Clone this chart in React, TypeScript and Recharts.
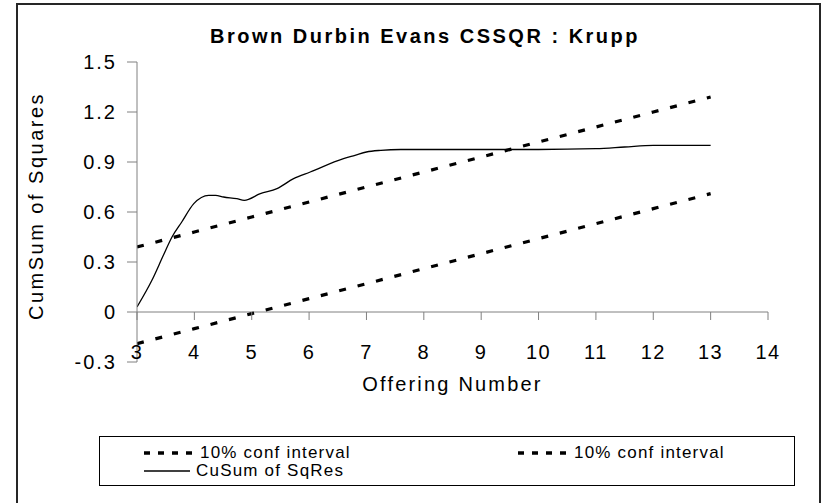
import React from 'react';
import { LineChart, Line, XAxis, YAxis, ReferenceLine } from 'recharts';

// ---- data ----
const confX = [3, 4, 5, 6, 7, 8, 9, 10, 11, 12, 13];
const upperVals = [0.39, 0.48, 0.57, 0.66, 0.75, 0.84, 0.93, 1.02, 1.11, 1.2, 1.29];
const lowerVals = [-0.19, -0.1, -0.01, 0.08, 0.17, 0.26, 0.35, 0.44, 0.53, 0.62, 0.71];

const cusumX = [3, 3.26, 3.46, 3.61, 3.78, 3.99, 4.25, 4.37, 4.51, 4.74, 4.87, 5.15, 5.44, 5.73, 6.02, 6.6, 6.8, 7.0, 7.25, 7.6, 8, 9, 10, 11, 11.5, 12, 13];
const cusumVals = [0.03, 0.19, 0.34, 0.45, 0.54, 0.65, 0.7, 0.7, 0.69, 0.68, 0.67, 0.71, 0.74, 0.8, 0.84, 0.92, 0.94, 0.96, 0.97, 0.975, 0.975, 0.975, 0.975, 0.98, 0.99, 1.0, 1.0];

const xTicks = [3, 4, 5, 6, 7, 8, 9, 10, 11, 12, 13, 14];
const yTicks = [-0.3, 0, 0.3, 0.6, 0.9, 1.2, 1.5];

const titleText = 'Brown Durbin Evans CSSQR : Krupp';
const xTitle = 'Offering Number';
const yTitle = 'CumSum of Squares';
const seriesNames = ['10% conf interval', '10% conf interval', 'CuSum of SqRes'];

const upperData = confX.map((x, i) => ({ x, v: upperVals[i] }));
const lowerData = confX.map((x, i) => ({ x, v: lowerVals[i] }));
const cusumData = cusumX.map((x, i) => ({ x, v: cusumVals[i] }));

// ---- layout ----
const W = 826;
const H = 503;
const PLOT_LEFT = 137;
const PLOT_TOP = 62;
const PLOT_RIGHT = 768;
const PLOT_BOTTOM = 362;
const Y_AXIS_W = 120;
const X_AXIS_H = 20;
const Y_MIN = -0.3;
const Y_MAX = 1.5;
const ZERO_Y = PLOT_TOP + ((PLOT_BOTTOM - PLOT_TOP) * (Y_MAX - 0)) / (Y_MAX - Y_MIN);

const FONT = '"Liberation Sans", Arial, Helvetica, sans-serif';
const AXIS_GRAY = '#808080';

const XTick = (props: any) => {
  const { x, payload } = props;
  return (
    <g>
      <line x1={x} x2={x} y1={ZERO_Y} y2={ZERO_Y + 8} stroke={AXIS_GRAY} strokeWidth={1} />
      <text
        x={x}
        y={ZERO_Y + 40}
        textAnchor="middle"
        dominantBaseline="central"
        fontFamily={FONT}
        fontSize={20}
        letterSpacing={1.5}
        fill="#000"
      >
        {payload.value}
      </text>
    </g>
  );
};

const XLabel = () => (
  <text
    x={(PLOT_LEFT + PLOT_RIGHT) / 2}
    y={ZERO_Y + 72}
    textAnchor="middle"
    dominantBaseline="central"
    fontFamily={FONT}
    fontSize={20}
    letterSpacing={2.2}
    fill="#000"
  >
    {xTitle}
  </text>
);

const YLabel = () => {
  const cx = 36;
  const cy = (PLOT_TOP + PLOT_BOTTOM) / 2 - 6;
  return (
    <text
      x={cx}
      y={cy}
      transform={`rotate(-90 ${cx} ${cy})`}
      textAnchor="middle"
      dominantBaseline="central"
      fontFamily={FONT}
      fontSize={20}
      letterSpacing={2.5}
      fill="#000"
    >
      {yTitle}
    </text>
  );
};

const DashSample = () => (
  <svg width={48} height={6} style={{ display: 'block' }}>
    <line x1={0} x2={48} y1={3} y2={3} stroke="#000" strokeWidth={3.5} strokeDasharray="6 8" />
  </svg>
);

const SolidSample = () => (
  <svg width={48} height={6} style={{ display: 'block' }}>
    <line x1={0} x2={46} y1={3} y2={3} stroke="#000" strokeWidth={1.3} />
  </svg>
);

export default function App() {
  return (
    <div style={{ position: 'absolute', left: 0, top: 0, width: W, height: H, overflow: 'hidden', background: '#fff', fontFamily: FONT }}>
      {/* outer frame */}
      <div
        style={{
          position: 'absolute',
          left: 16,
          top: 3,
          width: 805,
          height: 520,
          border: '2px solid #262626',
          boxSizing: 'border-box',
        }}
      />
      {/* title */}
      <div
        style={{
          position: 'absolute',
          left: 0,
          width: 850,
          top: 24,
          textAlign: 'center',
          fontWeight: 'bold',
          fontSize: 20,
          letterSpacing: 2.5,
          lineHeight: '24px',
          color: '#000',
        }}
      >
        {titleText}
      </div>
      <div style={{ position: 'absolute', left: 0, top: 0 }}>
        <LineChart
          width={W}
          height={H}
          margin={{
            top: PLOT_TOP,
            right: W - PLOT_RIGHT,
            bottom: H - PLOT_BOTTOM - X_AXIS_H,
            left: PLOT_LEFT - Y_AXIS_W,
          }}
        >
          <XAxis
            dataKey="x"
            type="number"
            domain={[3, 14]}
            ticks={xTicks}
            interval={0}
            allowDataOverflow
            axisLine={false}
            tickLine={false}
            height={X_AXIS_H}
            tick={<XTick />}
            label={<XLabel />}
          />
          <YAxis
            type="number"
            domain={[Y_MIN, Y_MAX]}
            ticks={yTicks}
            interval={0}
            allowDataOverflow
            width={Y_AXIS_W}
            axisLine={{ stroke: AXIS_GRAY, strokeWidth: 1 }}
            tickLine={{ stroke: AXIS_GRAY, strokeWidth: 1 }}
            tickSize={10}
            tickMargin={10}
            tick={{ fill: '#000', fontSize: 20, fontFamily: FONT, letterSpacing: 2 }}
            tickFormatter={(v: number) => String(v)}
            label={<YLabel />}
          />
          <ReferenceLine y={0} stroke={AXIS_GRAY} strokeWidth={1} />
          <Line
            data={upperData}
            dataKey="v"
            name={seriesNames[0]}
            type="linear"
            stroke="#000"
            strokeWidth={3.2}
            strokeDasharray="7 12"
            dot={false}
            activeDot={false}
            isAnimationActive={false}
          />
          <Line
            data={lowerData}
            dataKey="v"
            name={seriesNames[1]}
            type="linear"
            stroke="#000"
            strokeWidth={3.2}
            strokeDasharray="7 12"
            dot={false}
            activeDot={false}
            isAnimationActive={false}
          />
          <Line
            data={cusumData}
            dataKey="v"
            name={seriesNames[2]}
            type="monotone"
            stroke="#000"
            strokeWidth={1.3}
            dot={false}
            activeDot={false}
            isAnimationActive={false}
          />
        </LineChart>
      </div>
      {/* legend */}
      <div
        style={{
          position: 'absolute',
          left: 99,
          top: 436,
          width: 696,
          height: 50,
          border: '1px solid #000',
          boxSizing: 'border-box',
          fontSize: 17,
          letterSpacing: 1.2,
          color: '#000',
        }}
      >
        <div style={{ position: 'absolute', left: 44, top: 7, display: 'flex', alignItems: 'center', height: 18 }}>
          <DashSample />
          <span style={{ marginLeft: 8, whiteSpace: 'nowrap' }}>{seriesNames[0]}</span>
        </div>
        <div style={{ position: 'absolute', left: 418, top: 7, display: 'flex', alignItems: 'center', height: 18 }}>
          <DashSample />
          <span style={{ marginLeft: 8, whiteSpace: 'nowrap' }}>{seriesNames[1]}</span>
        </div>
        <div style={{ position: 'absolute', left: 44, top: 25, display: 'flex', alignItems: 'center', height: 18 }}>
          <SolidSample />
          <span style={{ marginLeft: 4, whiteSpace: 'nowrap' }}>{seriesNames[2]}</span>
        </div>
      </div>
    </div>
  );
}
